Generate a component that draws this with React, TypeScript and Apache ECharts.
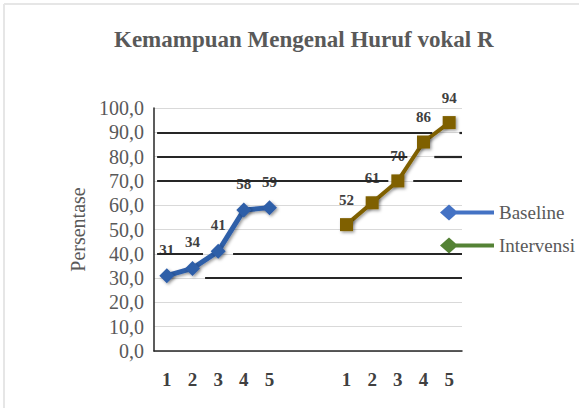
import React, { useEffect, useRef } from "react";
import * as echarts from "echarts";

const titleText = "Kemampuan Mengenal Huruf vokal R";
const xLabels = ["1", "2", "3", "4", "5", "", "", "1", "2", "3", "4", "5"];
const baselineName = "Baseline";
const interventionName = "Intervensi";
const baselineValues = [31, 34, 41, 58, 59];
const interventionValues = [52, 61, 70, 86, 94];
const baselineStart = 0; // category index of first baseline point
const interventionStart = 7; // category index of first intervention point
const yTicks = { min: 0, max: 100, interval: 10 };
// decorative dark horizontal strokes: [y, xFrom, xTo] in axis units
const darkStrokes: [number, number, number][] = [
  [90, 0.12, 10.84],
  [90, 11.9, 12],
  [80, 0.12, 9.87],
  [80, 10.92, 12],
  [70, 0.12, 9.13],
  [70, 10.1, 12],
  [40, 0.12, 1.91],
  [40, 3.08, 12],
  [30, 1.99, 12],
];
const phaseDivider = 6.15;

const SERIF = "'Liberation Serif', 'Times New Roman', serif";
const legendIcon =
  "path://M0,8 L9,0 L18,8 L9,16 Z M9,6 L54,6 L54,10 L9,10 Z";

export default function App() {
  const ref = useRef<HTMLDivElement>(null);
  useEffect(() => {
    if (!ref.current) return;
    const chart = echarts.init(ref.current, undefined, { renderer: "svg" });
    const labelStyle = {
      show: true,
      position: "top" as const,
      distance: 11,
      fontFamily: SERIF,
      fontWeight: "bold" as const,
      fontSize: 15,
      color: "#404040",
    };
    const shadow = {
      shadowBlur: 3,
      shadowColor: "rgba(0,0,0,0.4)",
      shadowOffsetX: 1.5,
      shadowOffsetY: 1.5,
    };
    chart.setOption({
      animation: false,
      backgroundColor: "#ffffff",
      title: {
        text: titleText,
        left: 109,
        top: 23,
        textStyle: {
          fontFamily: SERIF,
          fontWeight: "bold",
          fontSize: 23,
          color: "#595959",
        },
      },
      graphic: [
        { type: "line", shape: { x1: 4, y1: 4, x2: 4, y2: 408 }, style: { stroke: "#e6e6e6", lineWidth: 2 } },
        { type: "line", shape: { x1: 4, y1: 4, x2: 579, y2: 4 }, style: { stroke: "#e6e6e6", lineWidth: 2 } },
      ],
      legend: {
        orient: "vertical",
        left: 440,
        top: 203,
        itemGap: 14,
        itemWidth: 54,
        itemHeight: 16,
        padding: 0,
        textStyle: { fontFamily: SERIF, fontSize: 19, color: "#595959" },
        data: [
          { name: baselineName, icon: legendIcon, itemStyle: { color: "#4472c4" } },
          { name: interventionName, icon: legendIcon, itemStyle: { color: "#548235" } },
        ],
      },
      grid: { left: 154, right: 117, top: 108, bottom: 57 },
      xAxis: {
        type: "value",
        min: 0,
        max: xLabels.length,
        interval: 0.5,
        axisLine: { show: true, lineStyle: { color: "#262626", width: 1.5 } },
        axisTick: { show: false },
        splitLine: { show: false },
        axisLabel: {
          margin: 19,
          fontFamily: SERIF,
          fontWeight: "bold",
          fontSize: 19,
          color: "#404040",
          formatter: (v: number) => {
            const i = Math.round(v - 0.5);
            if (Math.abs(v - 0.5 - i) < 1e-6 && i >= 0 && i < xLabels.length) return xLabels[i];
            return "";
          },
        },
      },
      yAxis: {
        type: "value",
        min: yTicks.min,
        max: yTicks.max,
        interval: yTicks.interval,
        name: "Persentase",
        nameLocation: "middle",
        nameGap: 66,
        nameTextStyle: { fontFamily: SERIF, fontSize: 20, color: "#595959" },
        axisLine: { show: true, lineStyle: { color: "#262626", width: 1.5 } },
        axisTick: { show: false },
        splitLine: { show: true, lineStyle: { color: "#d9d9d9", width: 1 } },
        axisLabel: {
          margin: 10,
          fontFamily: SERIF,
          fontSize: 20,
          color: "#595959",
          formatter: (v: number) => v.toFixed(1).replace(".", ","),
        },
      },
      series: [
        {
          name: "decor",
          type: "line",
          data: [],
          silent: true,
          z: 1,
          markLine: {
            silent: true,
            symbol: ["none", "none"],
            label: { show: false },
            animation: false,
            data: [
              ...darkStrokes.map(([y, a, b]) => [
                { coord: [a, y], lineStyle: { color: "#262626", width: 2.2, type: "solid" } },
                { coord: [b, y] },
              ]),
              [
                { coord: [phaseDivider, -1], lineStyle: { color: "#262626", width: 1.2, type: "solid" } },
                { coord: [phaseDivider, 99] },
              ],
            ],
          },
        },
        {
          name: baselineName,
          type: "line",
          z: 3,
          data: baselineValues.map((v, i) => [baselineStart + i + 0.5, v]),
          symbol: "diamond",
          symbolSize: 15,
          itemStyle: { color: "#2f5ea8", ...shadow },
          lineStyle: { color: "#2f5ea8", width: 5, ...shadow },
          label: labelStyle,
        },
        {
          name: interventionName,
          type: "line",
          z: 3,
          data: interventionValues.map((v, i) => [interventionStart + i + 0.5, v]),
          symbol: "rect",
          symbolSize: 13,
          itemStyle: { color: "#7f6000", ...shadow },
          lineStyle: { color: "#7f6000", width: 4, ...shadow },
          label: labelStyle,
        },
      ],
    });
    return () => chart.dispose();
  }, []);
  return (
    <div
      ref={ref}
      style={{ position: "fixed", left: 0, top: 0, width: 579, height: 408, background: "#fff" }}
    />
  );
}
